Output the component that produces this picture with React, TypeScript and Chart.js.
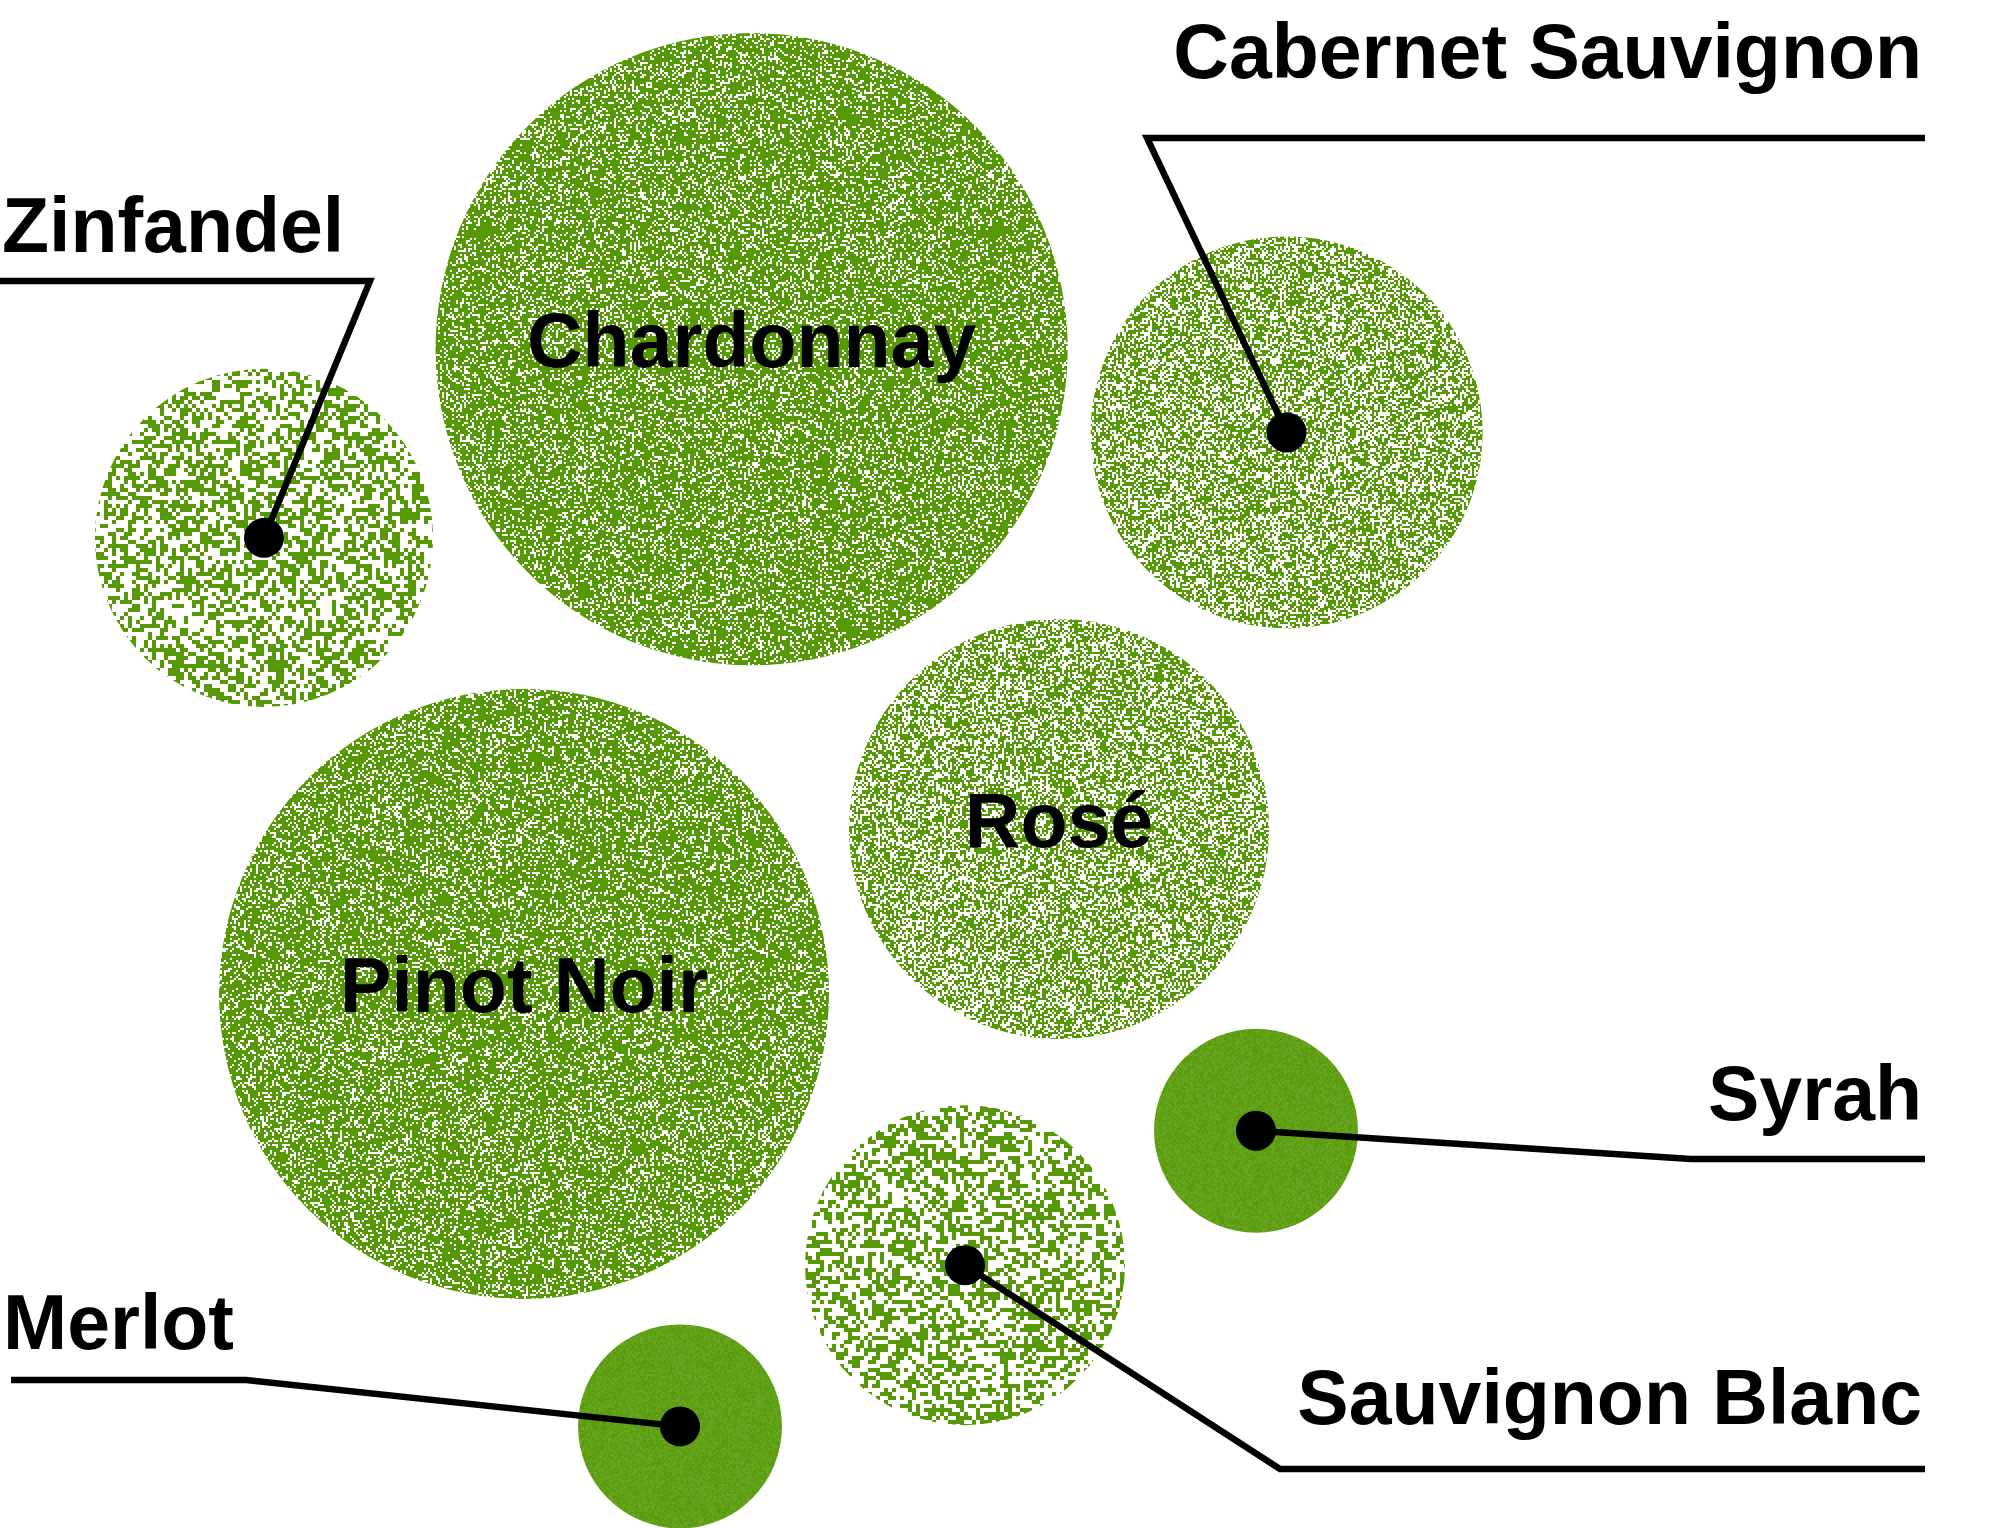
import React, { useEffect, useRef } from "react";
import { Chart, registerables } from "chart.js";

Chart.register(...registerables);

// ---- data ----
const varieties = [
  "Chardonnay",
  "Pinot Noir",
  "Rosé",
  "Cabernet Sauvignon",
  "Zinfandel",
  "Sauvignon Blanc",
  "Syrah",
  "Merlot",
];
// position on the (hidden) 0–100 axes
const xValues = [37.58, 26.2, 52.95, 64.33, 13.2, 48.25, 62.8, 34.0];
const yValues = [77.15, 34.95, 45.75, 71.7, 64.8, 17.2, 26.0, 6.65];
// bubble size value (radius = sqrt(value) * 10)
const sizeValues = [999, 930, 441, 384, 286, 256, 104, 104];

// labels drawn inside their bubble
const insideLabels = ["Chardonnay", "Pinot Noir", "Rosé"];

// ---- styles ----
const GREEN = [86, 152, 6];
const TEXTURES: Record<string, { cell: number; density: number; solid?: boolean; seed: number }> = {
  Chardonnay: { cell: 2, density: 0.74, seed: 11 },
  "Pinot Noir": { cell: 2, density: 0.74, seed: 23 },
  "Rosé": { cell: 2, density: 0.56, seed: 37 },
  "Cabernet Sauvignon": { cell: 2, density: 0.56, seed: 41 },
  Zinfandel: { cell: 4, density: 0.47, seed: 53 },
  "Sauvignon Blanc": { cell: 4, density: 0.47, seed: 67 },
  Syrah: { cell: 2, density: 1, solid: true, seed: 71 },
  Merlot: { cell: 2, density: 1, solid: true, seed: 83 },
};

// callout layout (pixels on the canvas)
const CALLOUTS: Record<
  string,
  { side: "left" | "right"; textX: number; baseline: number; lineY: number; lineEnd: number; elbowX: number }
> = {
  Zinfandel: { side: "left", textX: 2, baseline: 252, lineY: 281, lineEnd: 0, elbowX: 370 },
  Merlot: { side: "left", textX: 3, baseline: 1349, lineY: 1380, lineEnd: 11, elbowX: 246 },
  "Cabernet Sauvignon": { side: "right", textX: 1922, baseline: 78, lineY: 138, lineEnd: 1925, elbowX: 1147 },
  Syrah: { side: "right", textX: 1922, baseline: 1120, lineY: 1159, lineEnd: 1925, elbowX: 1691 },
  "Sauvignon Blanc": { side: "right", textX: 1922, baseline: 1424, lineY: 1469, lineEnd: 1925, elbowX: 1280 },
};

const FONT = 'bold 77px "Liberation Sans", Arial, sans-serif';

function mulberry32(a: number) {
  return function () {
    a |= 0;
    a = (a + 0x6d2b79f5) | 0;
    let t = Math.imul(a ^ (a >>> 15), 1 | a);
    t = (t + Math.imul(t ^ (t >>> 7), 61 | t)) ^ t;
    return ((t ^ (t >>> 14)) >>> 0) / 4294967296;
  };
}

function makePattern(ctx: CanvasRenderingContext2D, tex: { cell: number; density: number; solid?: boolean; seed: number }) {
  const size = 512;
  const c = document.createElement("canvas");
  c.width = size;
  c.height = size;
  const g = c.getContext("2d")!;
  const img = g.createImageData(size, size);
  const rnd = mulberry32(tex.seed);
  const d = img.data;
  for (let cy = 0; cy < size; cy += tex.cell) {
    for (let cx = 0; cx < size; cx += tex.cell) {
      let r: number, gg: number, b: number;
      if (tex.solid) {
        const t = rnd();
        r = 88 + t * 16;
        gg = 152 + t * 16;
        b = 10 + t * 24;
      } else if (rnd() < tex.density) {
        r = GREEN[0];
        gg = GREEN[1];
        b = GREEN[2];
      } else {
        r = 255;
        gg = 255;
        b = 255;
      }
      for (let yy = 0; yy < tex.cell; yy++) {
        for (let xx = 0; xx < tex.cell; xx++) {
          const i = ((cy + yy) * size + (cx + xx)) * 4;
          d[i] = r;
          d[i + 1] = gg;
          d[i + 2] = b;
          d[i + 3] = 255;
        }
      }
    }
  }
  g.putImageData(img, 0, 0);
  return ctx.createPattern(c, "repeat")!;
}

const labelPlugin = {
  id: "wineLabels",
  afterDatasetsDraw(chart: any) {
    const ctx: CanvasRenderingContext2D = chart.ctx;
    const meta = chart.getDatasetMeta(0);
    ctx.save();
    ctx.fillStyle = "#000";
    ctx.strokeStyle = "#000";
    ctx.font = FONT;
    varieties.forEach((name, i) => {
      const pt = meta.data[i];
      if (!pt) return;
      const co = CALLOUTS[name];
      if (co) {
        ctx.lineWidth = 6.5;
        ctx.lineJoin = "miter";
        ctx.lineCap = "butt";
        ctx.beginPath();
        ctx.moveTo(co.lineEnd, co.lineY);
        ctx.lineTo(co.elbowX, co.lineY);
        ctx.lineTo(pt.x, pt.y);
        ctx.stroke();
        ctx.beginPath();
        ctx.arc(pt.x, pt.y, 20, 0, Math.PI * 2);
        ctx.fill();
        ctx.textAlign = co.side === "left" ? "left" : "right";
        ctx.textBaseline = "alphabetic";
        ctx.fillText(name, co.textX, co.baseline);
      } else if (insideLabels.includes(name)) {
        ctx.textAlign = "center";
        ctx.textBaseline = "alphabetic";
        ctx.fillText(name, pt.x, pt.y + 18);
      }
    });
    ctx.restore();
  },
};

export default function App() {
  const canvasRef = useRef<HTMLCanvasElement | null>(null);

  useEffect(() => {
    const canvas = canvasRef.current!;
    const ctx = canvas.getContext("2d")!;
    const patterns = varieties.map((n) => makePattern(ctx, TEXTURES[n]));
    const chart = new Chart(ctx, {
      type: "bubble",
      data: {
        datasets: [
          {
            label: "Wine",
            data: varieties.map((_, i) => ({ x: xValues[i], y: yValues[i], r: Math.sqrt(sizeValues[i]) * 10 })),
            backgroundColor: patterns as any,
            borderWidth: 0,
            hoverBorderWidth: 0,
            clip: false as any,
          },
        ],
      },
      options: {
        animation: false,
        responsive: true,
        maintainAspectRatio: false,
        devicePixelRatio: 1,
        events: [],
        layout: { padding: 0, autoPadding: false },
        scales: {
          x: { type: "linear", min: 0, max: 100, display: false },
          y: { type: "linear", min: 0, max: 100, display: false },
        },
        plugins: { legend: { display: false }, tooltip: { enabled: false } },
      },
      plugins: [labelPlugin],
    });
    return () => chart.destroy();
  }, []);

  return (
    <div style={{ position: "fixed", left: 0, top: 0, width: 2000, height: 1528, background: "#fff" }}>
      <canvas ref={canvasRef} />
    </div>
  );
}
